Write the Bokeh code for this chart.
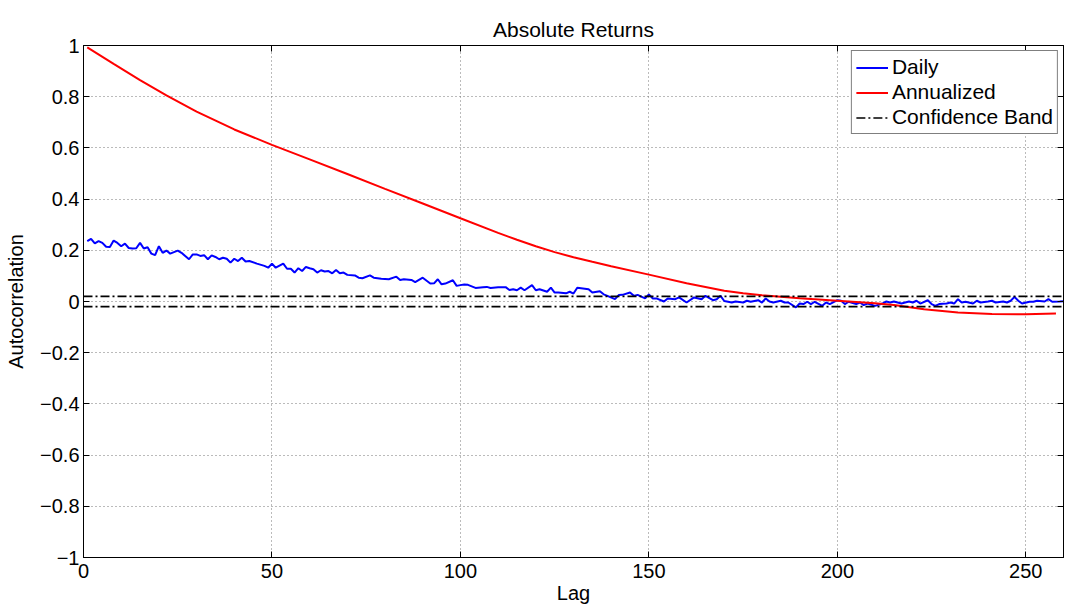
from bokeh.embed import file_html
from bokeh.models import CustomJSTickFormatter, FixedTicker, Legend, LegendItem, LinearAxis
from bokeh.plotting import figure
from bokeh.resources import INLINE

# values
daily_lag = [1, 2, 3, 4, 5, 6, 7, 8, 9, 10, 11, 12, 13, 14, 15, 16, 17, 18, 19, 20,
             21, 22, 23, 25, 26, 28, 29, 30, 31, 32, 33, 34, 35, 36, 37, 38, 39, 40, 41, 42,
             43, 44, 46, 48, 49, 50, 51, 53, 54, 55, 56, 57, 58, 59, 60, 61, 62, 63, 64, 65,
             66, 67, 68, 69, 70, 72, 73, 74, 76, 77, 79, 81, 83, 84, 85, 87, 88, 90, 92, 93,
             94, 95, 96, 98, 99, 100, 101, 102, 104, 106, 107, 108, 110, 112, 113, 114, 115, 116, 117, 119,
             120, 121, 123, 124, 125, 126, 128, 129, 130, 131, 133, 134, 135, 137, 138, 139, 141, 142, 143, 145,
             146, 147, 149, 150, 151, 152, 154, 155, 157, 158, 160, 162, 164, 165, 167, 168, 169, 170, 172, 173,
             175, 176, 177, 179, 180, 181, 182, 183, 185, 186, 187, 189, 190, 191, 192, 193, 194, 196, 197, 198,
             200, 201, 202, 203, 205, 206, 207, 208, 210, 212, 213, 214, 215, 217, 219, 220, 221, 222, 224, 225,
             226, 227, 229, 230, 231, 232, 233, 234, 236, 237, 238, 240, 241, 242, 244, 245, 246, 247, 248, 249,
             251, 252, 253, 255, 256, 257, 259, 260]
daily_acf = [0.236, 0.245, 0.227, 0.236, 0.229, 0.214, 0.213, 0.238, 0.229, 0.216, 0.226, 0.209, 0.207, 0.208, 0.229, 0.207, 0.212, 0.187, 0.181, 0.216,
             0.190, 0.199, 0.187, 0.199, 0.190, 0.165, 0.184, 0.184, 0.178, 0.181, 0.165, 0.180, 0.174, 0.165, 0.171, 0.167, 0.152, 0.167, 0.158, 0.171,
             0.156, 0.158, 0.148, 0.139, 0.132, 0.148, 0.132, 0.148, 0.128, 0.128, 0.113, 0.130, 0.119, 0.135, 0.130, 0.126, 0.113, 0.122, 0.117, 0.119,
             0.110, 0.123, 0.110, 0.113, 0.104, 0.102, 0.093, 0.091, 0.102, 0.093, 0.089, 0.087, 0.097, 0.084, 0.087, 0.084, 0.076, 0.093, 0.070, 0.071,
             0.087, 0.067, 0.070, 0.083, 0.061, 0.064, 0.066, 0.065, 0.053, 0.056, 0.057, 0.053, 0.056, 0.056, 0.045, 0.048, 0.044, 0.054, 0.044, 0.064,
             0.044, 0.048, 0.038, 0.054, 0.035, 0.035, 0.032, 0.038, 0.031, 0.054, 0.050, 0.048, 0.035, 0.040, 0.028, 0.022, 0.009, 0.025, 0.026, 0.035,
             0.022, 0.026, 0.012, 0.028, 0.012, 0.012, 0.000, 0.012, 0.009, 0.016, -0.004, 0.016, 0.009, 0.022, 0.005, 0.009, 0.022, 0.002, -0.004, 0.000,
             -0.004, 0.003, -0.001, 0.005, -0.004, 0.012, 0.000, -0.004, 0.003, -0.004, -0.004, -0.023, -0.008, -0.010, -0.001, -0.010, -0.001, -0.017, -0.004, -0.010,
             0.005, 0.003, -0.010, -0.001, -0.010, -0.004, -0.014, -0.008, -0.017, -0.008, 0.000, -0.004, 0.000, -0.008, 0.000, -0.004, 0.003, -0.008, 0.005, -0.010,
             -0.017, -0.010, -0.008, -0.004, -0.008, 0.009, -0.004, -0.001, -0.008, 0.003, -0.004, 0.000, 0.003, -0.004, 0.000, -0.004, 0.003, 0.018, 0.003, -0.008,
             -0.001, -0.001, 0.003, 0.000, 0.009, -0.001, 0.000, 0.001]

annual_lag = [1, 8, 15, 22, 30, 40, 50, 60, 70, 80, 90, 100, 110, 115, 120, 125, 130, 135, 140, 150,
              160, 170, 175, 180, 190, 200, 210, 215, 223, 232, 241, 250, 258]
annual_acf = [0.993, 0.928, 0.865, 0.805, 0.742, 0.672, 0.612, 0.555, 0.498, 0.440, 0.383, 0.325, 0.268, 0.241, 0.216, 0.193, 0.173, 0.155, 0.138, 0.105,
              0.071, 0.042, 0.032, 0.024, 0.013, 0.003, -0.007, -0.014, -0.030, -0.043, -0.049, -0.050, -0.047]

band_lag = [0, 260]
band_level = 0.02

x_ticks = [0, 50, 100, 150, 200, 250]
y_ticks = [-1, -0.8, -0.6, -0.4, -0.2, 0, 0.2, 0.4, 0.6, 0.8, 1]

FONT = "Liberation Sans"
FS = "20px"
FS_BIG = "21px"

p = figure(width=1064, height=606, x_range=(0, 260), y_range=(-1, 1),
           output_backend="svg", toolbar_location=None, tools="",
           min_border_left=83, min_border_right=1, min_border_top=45, min_border_bottom=47,
           background_fill_color="white", border_fill_color="white")

p.title.text = "Absolute Returns"
p.title.align = "center"
p.title.text_font = FONT
p.title.text_font_size = FS_BIG
p.title.text_font_style = "normal"
p.title.text_color = "black"

p.outline_line_color = "black"
p.outline_line_width = 1

fmt = CustomJSTickFormatter(code="""
    const v = Math.round(tick * 10) / 10;
    return v.toString().replace('-', '\\u2212');
""")
blank = CustomJSTickFormatter(code="return '';")

p.xaxis.ticker = FixedTicker(ticks=x_ticks)
p.yaxis.ticker = FixedTicker(ticks=y_ticks)
p.yaxis.formatter = fmt
p.xaxis.axis_label = "Lag"
p.yaxis.axis_label = "Autocorrelation"
for ax in (p.xaxis, p.yaxis):
    ax.major_tick_in = 6
    ax.major_tick_out = 0
    ax.minor_tick_line_color = None
    ax.axis_line_color = "black"
    ax.major_tick_line_color = "black"
    ax.major_label_text_font = FONT
    ax.major_label_text_font_size = FS
    ax.major_label_text_color = "black"
    ax.axis_label_text_font = FONT
    ax.axis_label_text_font_size = FS
    ax.axis_label_text_font_style = "normal"
    ax.axis_label_text_color = "black"
p.xaxis.major_label_standoff = 6
p.xaxis.axis_label_standoff = 1
p.yaxis.major_label_standoff = 4
p.yaxis.axis_label_standoff = 10

for side, ticks in (("above", x_ticks), ("right", y_ticks)):
    ax = LinearAxis(ticker=FixedTicker(ticks=ticks), formatter=blank,
                    major_tick_in=6, major_tick_out=0, minor_tick_line_color=None,
                    major_label_standoff=0, axis_line_color="black")
    p.add_layout(ax, side)

p.grid.grid_line_color = "#777777"
p.grid.grid_line_dash = "1 3"
p.grid.grid_line_width = 1

r_daily = p.line(daily_lag, daily_acf, line_color="#0000ff", line_width=2)
r_annual = p.line(annual_lag, annual_acf, line_color="#ff0000", line_width=2)
r_band_up = p.line(band_lag, [band_level] * 2, line_color="black", line_width=1.6, line_dash="9 3 2 3")
r_band_lo = p.line(band_lag, [-band_level] * 2, line_color="black", line_width=1.6, line_dash="9 3 2 3")

legend = Legend(items=[
    LegendItem(label="Daily", renderers=[r_daily]),
    LegendItem(label="Annualized", renderers=[r_annual]),
    LegendItem(label="Confidence Band", renderers=[r_band_up]),
], location="top_right")
legend.label_text_font = FONT
legend.label_text_font_size = FS_BIG
legend.label_text_color = "black"
legend.border_line_color = "black"
legend.border_line_width = 1
legend.background_fill_alpha = 1
legend.margin = 5
legend.padding = 4
legend.spacing = 1
legend.label_height = 23
legend.glyph_height = 23
legend.glyph_width = 32
legend.label_standoff = 4
p.add_layout(legend)

open("out.html", "w").write(file_html(p, INLINE))
